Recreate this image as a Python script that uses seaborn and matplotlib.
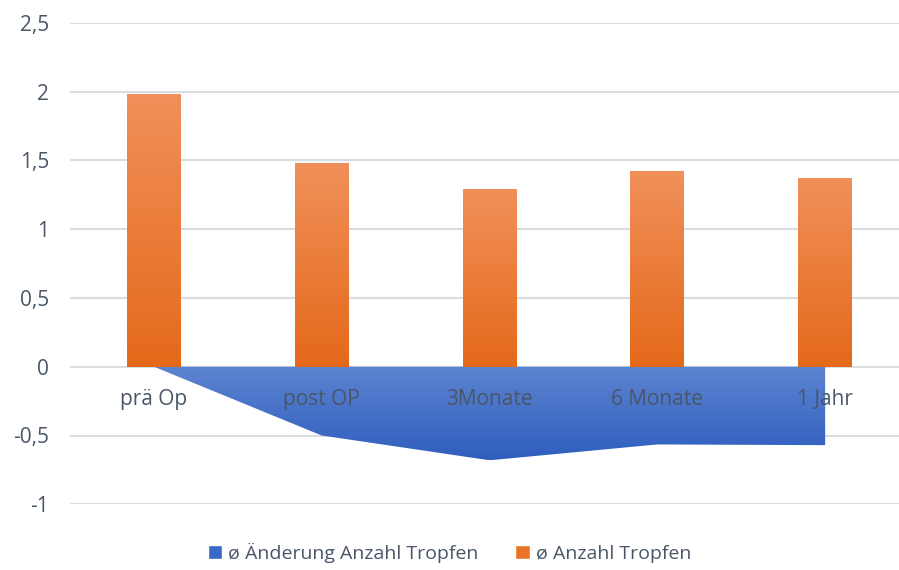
import numpy as np
import pandas as pd
import seaborn as sns
import matplotlib.pyplot as plt
from matplotlib.patches import Patch
from matplotlib.colors import LinearSegmentedColormap

# data
categories = ["prä Op", "post OP", "3Monate", "6 Monate", "1 Jahr"]
anzahl = [1.98, 1.48, 1.29, 1.42, 1.37]
aenderung = [0.0, -0.50, -0.68, -0.565, -0.57]
yticks = [-1, -0.5, 0, 0.5, 1, 1.5, 2, 2.5]

df = pd.DataFrame({"Zeitpunkt": categories, "Anzahl": anzahl})

sns.set_theme(style="white")
plt.rcParams["font.family"] = ["Open Sans", "DejaVu Sans"]
text_col = "#4A5668"

fig = plt.figure(figsize=(8.99, 5.70), dpi=100)
ax = fig.add_axes([70 / 899, 65.7 / 570, 829 / 899, (547.3 - 65.7) / 570])

orange = LinearSegmentedColormap.from_list("o", ["#E4691A", "#F1905A"])
blue = LinearSegmentedColormap.from_list("b", ["#2E5EBE", "#5D84D0"])
grad = np.linspace(0, 1, 256).reshape(-1, 1)

# area: change in drop count
x = np.arange(len(categories))
area = ax.fill_between(x, 0, aenderung, color="#4472C4", lw=0, zorder=2)
ymin = min(aenderung)
im = ax.imshow(grad, cmap=blue, origin="lower", aspect="auto",
               extent=[x[0], x[-1], ymin, 0], zorder=2)
im.set_clip_path(area.get_paths()[0], transform=ax.transData)
area.set_alpha(0)

# bars: average drop count
sns.barplot(data=df, x="Zeitpunkt", y="Anzahl", color="#ED7D31", width=0.32,
            ax=ax, zorder=3)
for p in ax.patches:
    bx, by = p.get_x(), p.get_y()
    bw, bh = p.get_width(), p.get_height()
    gi = ax.imshow(grad, cmap=orange, origin="lower", aspect="auto",
                   extent=[bx, bx + bw, by, by + bh], zorder=3)
    gi.set_clip_path(p)
    p.set_alpha(0)

ax.set_xlim(-0.5, 4.44)
ax.set_ylim(-1, 2.5)
ax.set_yticks(yticks)
ax.set_yticklabels([f"{t:g}".replace(".", ",") for t in yticks])
ax.tick_params(axis="y", length=0, pad=15, labelsize=15, labelcolor=text_col)
ax.set_xticks([])
ax.set_xlabel("")
ax.set_ylabel("")
for s in ax.spines.values():
    s.set_visible(False)
ax.yaxis.grid(True, color="#D9DCE1", lw=1.5, zorder=0)
ax.set_axisbelow(True)

# category labels sit just under the zero line
for i, c in enumerate(categories):
    ax.text(i, -0.235, c, ha="center", va="center", fontsize=15,
            color=text_col, zorder=5)

handles = [Patch(facecolor="#3A68C6", label="ø Änderung Anzahl Tropfen"),
           Patch(facecolor="#EA7425", label="ø Anzahl Tropfen")]
fig.legend(handles=handles, loc="center", bbox_to_anchor=(0.5, 17 / 570),
           ncol=2, frameon=False, fontsize=14, labelcolor=text_col,
           handlelength=0.75, handleheight=0.75, handletextpad=0.3,
           columnspacing=1.9)

fig.savefig("out.png", dpi=100)
